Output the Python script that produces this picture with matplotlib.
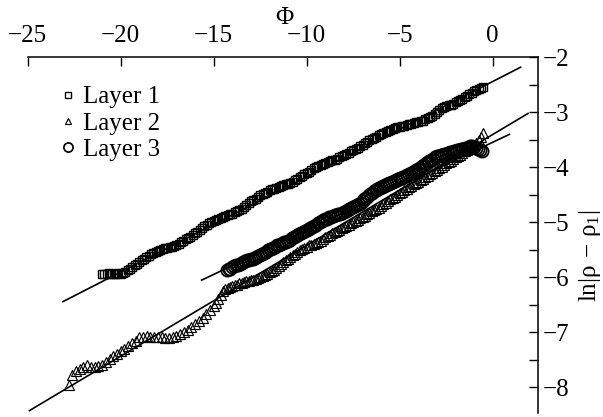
import matplotlib
matplotlib.use('Agg')
import matplotlib.pyplot as plt
from matplotlib.ticker import MultipleLocator, NullLocator

plt.rcParams['font.family'] = ['Liberation Serif', 'DejaVu Serif']
plt.rcParams['mathtext.fontset'] = 'custom'
plt.rcParams['mathtext.rm'] = 'Liberation Serif'
plt.rcParams['mathtext.it'] = 'Liberation Serif'
plt.rcParams['mathtext.bf'] = 'Liberation Serif:bold'

# ---------------- data ----------------
layer1_x = [-21.0, -20.875, -20.75, -20.625, -20.5, -20.375, -20.25, -20.125, -20.0, -19.875,
            -19.75, -19.625, -19.5, -19.375, -19.25, -19.125, -19.0, -18.875, -18.75, -18.625,
            -18.5, -18.375, -18.25, -18.125, -18.0, -17.875, -17.75, -17.625, -17.5, -17.375,
            -17.25, -17.125, -17.0, -16.875, -16.75, -16.625, -16.5, -16.375, -16.25, -16.125,
            -16.0, -15.875, -15.75, -15.625, -15.5, -15.375, -15.25, -15.125, -15.0, -14.875,
            -14.75, -14.625, -14.5, -14.375, -14.25, -14.125, -14.0, -13.875, -13.75, -13.625,
            -13.5, -13.375, -13.25, -13.125, -13.0, -12.875, -12.75, -12.625, -12.5, -12.375,
            -12.25, -12.125, -12.0, -11.875, -11.75, -11.625, -11.5, -11.375, -11.25, -11.125,
            -11.0, -10.875, -10.75, -10.625, -10.5, -10.375, -10.25, -10.125, -10.0, -9.875,
            -9.75, -9.625, -9.5, -9.375, -9.25, -9.125, -9.0, -8.875, -8.75, -8.625,
            -8.5, -8.375, -8.25, -8.125, -8.0, -7.875, -7.75, -7.625, -7.5, -7.375,
            -7.25, -7.125, -7.0, -6.875, -6.75, -6.625, -6.5, -6.375, -6.25, -6.125,
            -6.0, -5.875, -5.75, -5.625, -5.5, -5.375, -5.25, -5.125, -5.0, -4.875,
            -4.75, -4.625, -4.5, -4.375, -4.25, -4.125, -4.0, -3.875, -3.75, -3.625,
            -3.5, -3.375, -3.25, -3.125, -3.0, -2.875, -2.75, -2.625, -2.5, -2.375,
            -2.25, -2.125, -2.0, -1.875, -1.75, -1.625, -1.5, -1.375, -1.25, -1.125,
            -1.0, -0.875, -0.75, -0.625, -0.5]
layer1_y = [-5.93, -5.94, -5.93, -5.92, -5.93, -5.94, -5.93, -5.92, -5.93, -5.92,
            -5.90, -5.87, -5.84, -5.81, -5.78, -5.75, -5.72, -5.69, -5.66, -5.63,
            -5.61, -5.58, -5.56, -5.54, -5.52, -5.50, -5.48, -5.47, -5.46, -5.45,
            -5.44, -5.43, -5.41, -5.39, -5.36, -5.33, -5.31, -5.28, -5.26, -5.23,
            -5.20, -5.17, -5.14, -5.10, -5.07, -5.04, -5.02, -5.00, -4.98, -4.96,
            -4.94, -4.92, -4.90, -4.88, -4.87, -4.85, -4.84, -4.82, -4.80, -4.78,
            -4.76, -4.72, -4.69, -4.65, -4.62, -4.60, -4.57, -4.54, -4.51, -4.48,
            -4.46, -4.44, -4.42, -4.40, -4.39, -4.37, -4.36, -4.34, -4.33, -4.31,
            -4.30, -4.28, -4.26, -4.23, -4.21, -4.18, -4.16, -4.13, -4.11, -4.08,
            -4.05, -4.02, -4.00, -3.98, -3.96, -3.94, -3.93, -3.91, -3.89, -3.87,
            -3.86, -3.84, -3.82, -3.80, -3.78, -3.76, -3.74, -3.71, -3.69, -3.66,
            -3.64, -3.61, -3.59, -3.56, -3.54, -3.51, -3.49, -3.46, -3.44, -3.41,
            -3.39, -3.37, -3.36, -3.34, -3.32, -3.30, -3.29, -3.27, -3.26, -3.25,
            -3.24, -3.23, -3.22, -3.21, -3.20, -3.18, -3.17, -3.16, -3.15, -3.13,
            -3.11, -3.09, -3.06, -3.03, -3.00, -2.96, -2.93, -2.91, -2.89, -2.87,
            -2.86, -2.84, -2.82, -2.80, -2.78, -2.75, -2.72, -2.70, -2.67, -2.64,
            -2.62, -2.60, -2.58, -2.56, -2.54]

layer2_x = [-22.8, -22.6, -22.4, -22.2, -22.0, -21.8, -21.6, -21.4, -21.2, -21.0,
            -20.8, -20.6, -20.4, -20.2, -20.0, -19.8, -19.6, -19.4, -19.2, -19.0,
            -18.8, -18.6, -18.4, -18.2, -18.0, -17.8, -17.6, -17.4, -17.2, -17.0,
            -16.8, -16.6, -16.4, -16.2, -16.0, -15.8, -15.6, -15.4, -15.2,
            -15.0, -14.875, -14.75, -14.625, -14.5, -14.375, -14.25, -14.125, -14.0, -13.875,
            -13.75, -13.625, -13.5, -13.375, -13.25, -13.125, -13.0, -12.875, -12.75, -12.625,
            -12.5, -12.375, -12.25, -12.125, -12.0, -11.875, -11.75, -11.625, -11.5, -11.375,
            -11.25, -11.125, -11.0, -10.875, -10.75, -10.625, -10.5, -10.375, -10.25, -10.125,
            -10.0, -9.875, -9.75, -9.625, -9.5, -9.375, -9.25, -9.125, -9.0, -8.875,
            -8.75, -8.625, -8.5, -8.375, -8.25, -8.125, -8.0, -7.875, -7.75, -7.625,
            -7.5, -7.375, -7.25, -7.125, -7.0, -6.875, -6.75, -6.625, -6.5, -6.375,
            -6.25, -6.125, -6.0, -5.875, -5.75, -5.625, -5.5, -5.375, -5.25, -5.125,
            -5.0, -4.875, -4.75, -4.625, -4.5, -4.375, -4.25, -4.125, -4.0, -3.875,
            -3.75, -3.625, -3.5, -3.375, -3.25, -3.125, -3.0, -2.875, -2.75, -2.625,
            -2.5, -2.375, -2.25, -2.125, -2.0, -1.875, -1.75, -1.625, -1.5, -1.375,
            -1.25, -1.125, -1.0, -0.875, -0.75, -0.625, -0.5]
layer2_y = [-7.96, -7.78, -7.70, -7.66, -7.62, -7.59, -7.62, -7.63, -7.61, -7.59,
            -7.54, -7.48, -7.43, -7.39, -7.34, -7.30, -7.25, -7.20, -7.15, -7.09,
            -7.08, -7.07, -7.08, -7.09, -7.08, -7.09, -7.10, -7.10, -7.09, -7.06,
            -7.03, -6.99, -6.95, -6.91, -6.85, -6.79, -6.73, -6.66, -6.59,
            -6.52, -6.47, -6.40, -6.32, -6.24, -6.22, -6.20, -6.18, -6.16, -6.14,
            -6.13, -6.11, -6.10, -6.08, -6.07, -6.06, -6.05, -6.04, -6.03, -6.01,
            -5.99, -5.97, -5.95, -5.93, -5.91, -5.89, -5.86, -5.83, -5.79, -5.76,
            -5.72, -5.69, -5.66, -5.63, -5.60, -5.57, -5.54, -5.51, -5.49, -5.46,
            -5.44, -5.42, -5.41, -5.39, -5.37, -5.35, -5.33, -5.30, -5.27, -5.25,
            -5.23, -5.20, -5.18, -5.15, -5.13, -5.10, -5.08, -5.06, -5.04, -5.01,
            -4.99, -4.97, -4.95, -4.92, -4.90, -4.88, -4.85, -4.83, -4.80, -4.78,
            -4.75, -4.73, -4.70, -4.67, -4.64, -4.61, -4.58, -4.55, -4.53, -4.50,
            -4.47, -4.44, -4.42, -4.39, -4.36, -4.34, -4.31, -4.29, -4.26, -4.23,
            -4.21, -4.18, -4.15, -4.12, -4.10, -4.07, -4.04, -4.01, -3.99, -3.96,
            -3.93, -3.90, -3.88, -3.85, -3.82, -3.79, -3.77, -3.74, -3.71, -3.68,
            -3.66, -3.63, -3.60, -3.55, -3.50, -3.44, -3.38]

layer3_x = [-14.3, -14.2, -14.1, -14.0, -13.9, -13.8, -13.7, -13.6, -13.5, -13.4,
            -13.3, -13.2, -13.1, -13.0, -12.9, -12.8, -12.7, -12.6, -12.5, -12.4,
            -12.3, -12.2, -12.1, -12.0, -11.9, -11.8, -11.7, -11.6, -11.5, -11.4,
            -11.3, -11.2, -11.1, -11.0, -10.9, -10.8, -10.7, -10.6, -10.5, -10.4,
            -10.3, -10.2, -10.1, -10.0, -9.9, -9.8, -9.7, -9.6, -9.5, -9.4,
            -9.3, -9.2, -9.1, -9.0, -8.9, -8.8, -8.7, -8.6, -8.5, -8.4,
            -8.3, -8.2, -8.1, -8.0, -7.9, -7.8, -7.7, -7.6, -7.5, -7.4,
            -7.3, -7.2, -7.1, -7.0, -6.9, -6.8, -6.7, -6.6, -6.5, -6.4,
            -6.3, -6.2, -6.1, -6.0, -5.9, -5.8, -5.7, -5.6, -5.5, -5.4,
            -5.3, -5.2, -5.1, -5.0, -4.9, -4.8, -4.7, -4.6, -4.5, -4.4,
            -4.3, -4.2, -4.1, -4.0, -3.9, -3.8, -3.7, -3.6, -3.5, -3.4,
            -3.3, -3.2, -3.1, -3.0, -2.9, -2.8, -2.7, -2.6, -2.5, -2.4,
            -2.3, -2.2, -2.1, -2.0, -1.9, -1.8, -1.7, -1.6, -1.5, -1.4,
            -1.3, -1.2, -1.1, -1.0, -0.9, -0.8, -0.7, -0.55]
layer3_y = [-5.87, -5.85, -5.84, -5.82, -5.80, -5.78, -5.77, -5.75, -5.74, -5.72,
            -5.71, -5.69, -5.68, -5.67, -5.66, -5.64, -5.63, -5.61, -5.59, -5.57,
            -5.55, -5.53, -5.51, -5.49, -5.48, -5.46, -5.44, -5.42, -5.41, -5.39,
            -5.38, -5.36, -5.35, -5.33, -5.32, -5.29, -5.27, -5.25, -5.23, -5.21,
            -5.19, -5.17, -5.15, -5.13, -5.12, -5.10, -5.08, -5.06, -5.04, -5.02,
            -5.00, -4.98, -4.96, -4.94, -4.93, -4.91, -4.90, -4.88, -4.87, -4.86,
            -4.85, -4.84, -4.83, -4.81, -4.80, -4.77, -4.75, -4.73, -4.72, -4.70,
            -4.69, -4.66, -4.64, -4.61, -4.58, -4.55, -4.52, -4.49, -4.46, -4.43,
            -4.41, -4.39, -4.37, -4.35, -4.34, -4.32, -4.31, -4.29, -4.28, -4.26,
            -4.25, -4.23, -4.22, -4.20, -4.19, -4.17, -4.16, -4.14, -4.13, -4.11,
            -4.09, -4.07, -4.05, -4.03, -4.01, -3.98, -3.96, -3.93, -3.91, -3.88,
            -3.86, -3.84, -3.82, -3.80, -3.79, -3.78, -3.77, -3.76, -3.75, -3.74,
            -3.73, -3.72, -3.71, -3.70, -3.69, -3.68, -3.67, -3.66, -3.65, -3.64,
            -3.63, -3.62, -3.62, -3.63, -3.64, -3.66, -3.69, -3.70]

# fitted straight lines (end points)
fit1_x = [-23.1, 1.5]
fit1_y = [-6.44, -2.18]
fit2_x = [-24.9, 1.9]
fit2_y = [-8.42, -3.02]
fit3_x = [-15.65, 0.9]
fit3_y = [-6.05, -3.40]

labels = ['Layer 1', 'Layer 2', 'Layer 3']
x_ticks = [-25, -20, -15, -10, -5, 0]
# ---------------------------------------------------------------

fig = plt.figure(figsize=(6.03, 4.17), dpi=100)
ax = fig.add_axes([0.0459, 0.0089, 0.8468, 0.8537])

ax.plot(fit1_x, fit1_y, color='black', lw=1.2, zorder=1)
ax.plot(fit2_x, fit2_y, color='black', lw=1.2, zorder=1)
ax.plot(fit3_x, fit3_y, color='black', lw=1.2, zorder=1)

h1, = ax.plot(layer1_x, layer1_y, ls='none', marker='s', ms=6.0, mfc='none',
              mec='black', mew=1.0, label=labels[0], zorder=2)
h2, = ax.plot(layer2_x, layer2_y, ls='none', marker='^', ms=6.5, mfc='none',
              mec='black', mew=0.85, label=labels[1], zorder=2)
h3, = ax.plot(layer3_x, layer3_y, ls='none', marker='o', ms=8.8, mfc='none',
              mec='black', mew=1.25, label=labels[2], zorder=3)

ax.set_xlim(-25, 2.45)
ax.set_ylim(-8.47, -2)

for s in ['left', 'bottom']:
    ax.spines[s].set_visible(False)
for s in ['top', 'right']:
    ax.spines[s].set_linewidth(1.1)

ax.xaxis.tick_top()
ax.yaxis.tick_right()
ax.set_xticks(x_ticks)
ax.xaxis.set_minor_locator(NullLocator())
ax.yaxis.set_major_locator(MultipleLocator(1))
ax.yaxis.set_minor_locator(MultipleLocator(0.5))
ax.tick_params(which='both', direction='in', length=6.5, width=1.0,
               top=True, bottom=False, left=False, right=True,
               labeltop=True, labelbottom=False, labelleft=False, labelright=True,
               labelsize=18)
ax.tick_params(axis='x', pad=7.6)
ax.tick_params(axis='y', pad=3)

ax.xaxis.set_label_position('top')
ax.set_xlabel('Φ', fontsize=18, va='center')
ax.xaxis.set_label_coords(0.502, 1.11)

ax.yaxis.set_label_position('right')
ax.set_ylabel(r'$\mathrm{ln}|\rho\,-\,\rho_1|$', fontsize=18, va='center', ha='center')
ax.yaxis.set_label_coords(1.101, 0.442)

leg = ax.legend(handles=[h1, h2, h3], loc='upper left',
                bbox_to_anchor=(58.3 / 603, 1 - 86 / 417), bbox_transform=fig.transFigure,
                frameon=False, fontsize=18, borderpad=0, borderaxespad=0,
                handlelength=0.8, handletextpad=0.2, labelspacing=0.15,
                markerscale=0.75)

fig.savefig('out.png', dpi=100)
